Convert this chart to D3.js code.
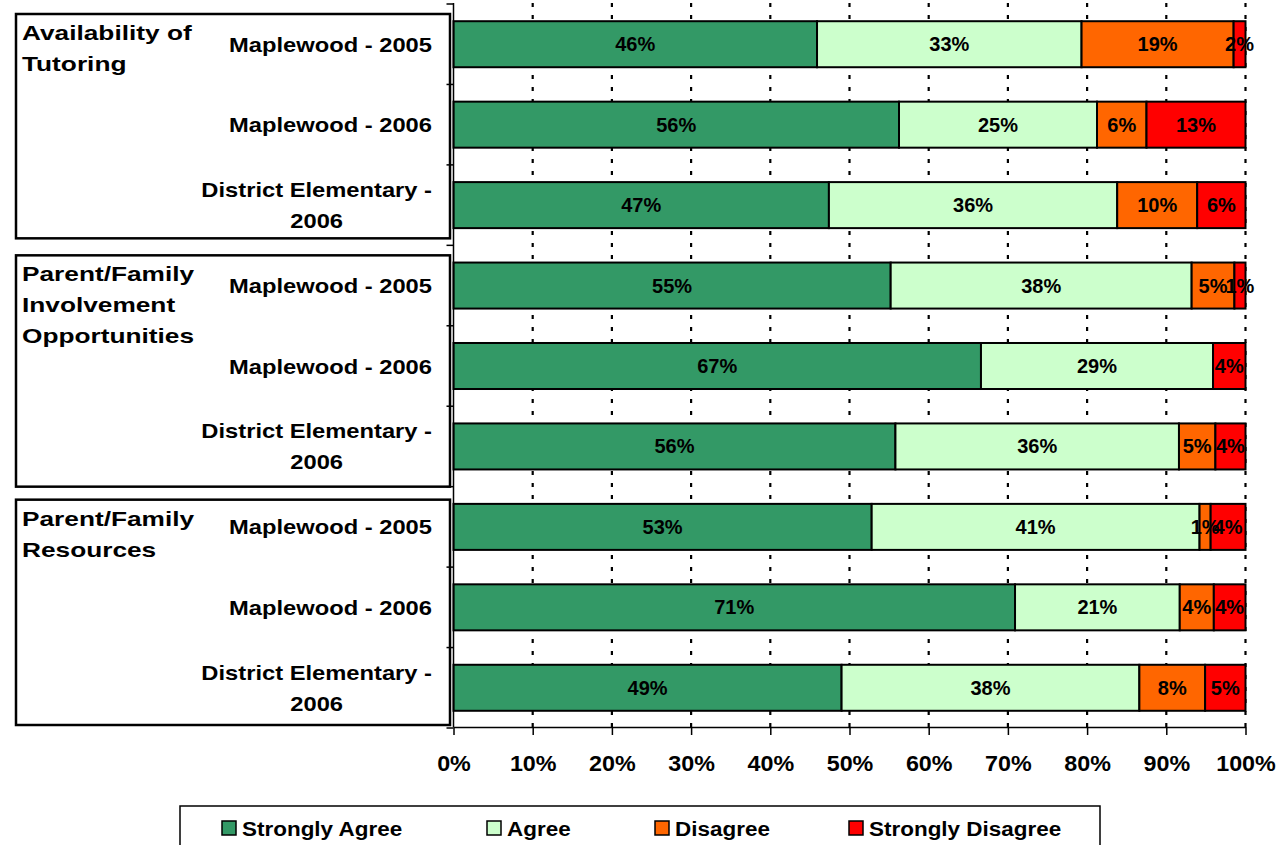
<!DOCTYPE html>
<html>
<head>
<meta charset="utf-8">
<script src="https://cdn.jsdelivr.net/npm/d3@7"></script>
<style>
  body { margin: 0; background: #fff; }
  svg text { font-family: "Liberation Sans", Arial, sans-serif; font-weight: bold; fill: #000; }
</style>
</head>
<body>
<svg id="chart" width="1287" height="845"></svg>
<script>
// survey rows, top to bottom
var categories = [
  ["Maplewood - 2005"], ["Maplewood - 2006"], ["District Elementary -", "2006"],
  ["Maplewood - 2005"], ["Maplewood - 2006"], ["District Elementary -", "2006"],
  ["Maplewood - 2005"], ["Maplewood - 2006"], ["District Elementary -", "2006"]
];
var groups = [
  ["Availability of", "Tutoring"],
  ["Parent/Family", "Involvement", "Opportunities"],
  ["Parent/Family", "Resources"]
];
var seriesNames = ["Strongly Agree", "Agree", "Disagree", "Strongly Disagree"];
var stronglyAgree    = [45.9, 56.25, 47.4, 55.2, 66.6, 55.8, 52.8, 70.9, 49.0];
var agree            = [33.4, 25.0, 36.4, 38.0, 29.3, 35.8, 41.4, 20.8, 37.6];
var disagree         = [19.2, 6.25, 10.1, 5.4, 0, 4.6, 1.4, 4.3, 8.3];
var stronglyDisagree = [1.5, 12.5, 6.1, 1.4, 4.1, 3.8, 4.4, 4.0, 5.1];
var tickValues = [0, 0.1, 0.2, 0.3, 0.4, 0.5, 0.6, 0.7, 0.8, 0.9, 1];

var colors = ["#339966", "#CCFFCC", "#FF6600", "#FF0000"];

var svg = d3.select("#chart");

var rows = categories.map(function (c, i) {
  return {
    i: i,
    "Strongly Agree": stronglyAgree[i],
    "Agree": agree[i],
    "Disagree": disagree[i],
    "Strongly Disagree": stronglyDisagree[i]
  };
});

var x = d3.scaleLinear().domain([0, 1]).range([453.5, 1245.5]);
var y = d3.scaleBand().domain(d3.range(9)).range([4, 728]).paddingInner(0.428).paddingOuter(0.214);
var step = y.step();
var top0 = 3, bottom0 = 727;

var stacked = d3.stack().keys(seriesNames).offset(d3.stackOffsetExpand)(rows);

// dotted gridlines
svg.append("g").selectAll("line").data(tickValues.slice(1)).join("line")
  .attr("x1", d => x(d)).attr("x2", d => x(d))
  .attr("y1", top0).attr("y2", bottom0)
  .attr("stroke", "#000").attr("stroke-width", 2.2)
  .attr("stroke-dasharray", "4,8");

// bars
var layer = svg.append("g").selectAll("g").data(stacked).join("g")
  .attr("fill", (d, k) => colors[k]);

layer.selectAll("rect").data(d => d.filter(s => s[1] - s[0] > 0)).join("rect")
  .attr("x", d => x(d[0]))
  .attr("width", d => x(d[1]) - x(d[0]))
  .attr("y", d => y(d.data.i))
  .attr("height", y.bandwidth())
  .attr("stroke", "#000").attr("stroke-width", 2);

// value labels
stacked.forEach(function (s) {
  svg.append("g").selectAll("text").data(s.filter(d => d[1] - d[0] > 0)).join("text")
    .attr("x", d => x((d[0] + d[1]) / 2))
    .attr("y", d => y(d.data.i) + y.bandwidth() / 2 + 7)
    .attr("text-anchor", "middle")
    .style("font-size", "20px")
    .text(d => Math.round(d.data[s.key]) + "%");
});

// left axis with ticks at band boundaries
var la = svg.append("g");
la.append("line").attr("x1", x(0)).attr("x2", x(0)).attr("y1", top0).attr("y2", bottom0)
  .attr("stroke", "#000").attr("stroke-width", 1.5);
la.selectAll("line.t").data(d3.range(10)).join("line").attr("class", "t")
  .attr("x1", x(0) - 7).attr("x2", x(0))
  .attr("y1", d => 4 + d * step).attr("y2", d => 4 + d * step)
  .attr("stroke", "#000").attr("stroke-width", 1.5);

// bottom axis
var ax = svg.append("g").attr("transform", "translate(0," + bottom0 + ")")
  .call(d3.axisBottom(x).tickValues(tickValues).tickSize(8).tickSizeOuter(0).tickFormat(d3.format(".0%")));
ax.select(".domain").attr("stroke", "#000").attr("stroke-width", 1.5);
ax.selectAll(".tick line").attr("stroke", "#000").attr("stroke-width", 1.5);
ax.selectAll(".tick text").attr("y", 44).attr("dy", null)
  .attr("font-family", null).attr("font-size", null)
  .style("font-size", "22px").attr("transform", "scale(1.06,1)");

// stretched text helper
function stretched(parent, tx, ty, sx, size, anchor, str) {
  var g = parent.append("g").attr("transform", "translate(" + tx + "," + ty + ") scale(" + sx + ",1)");
  return g.append("text").attr("text-anchor", anchor).style("font-size", size + "px").text(str);
}

// category labels
var labelRight = 432;
categories.forEach(function (lines, i) {
  var c = y(i) + y.bandwidth() / 2;
  if (lines.length === 1) {
    stretched(svg, labelRight, c + 7.5, 1.13, 21, "end", lines[0]);
  } else {
    var t = stretched(svg, labelRight, c - 15.5 + 7.5, 1.13, 21, "end", lines[0]);
    var w = t.node().getComputedTextLength() * 1.13;
    stretched(svg, labelRight - w / 2, c + 15.5 + 7.5, 1.13, 21, "middle", lines[1]);
  }
});

// group boxes and labels
var boxInset = [[10, 7], [10, 0], [13, 3]];
groups.forEach(function (lines, gi) {
  var bTop = 4 + gi * 3 * step + boxInset[gi][0];
  var bBot = 4 + (gi + 1) * 3 * step - boxInset[gi][1];
  svg.append("rect").attr("x", 16).attr("y", bTop).attr("width", 434).attr("height", bBot - bTop)
    .attr("fill", "none").attr("stroke", "#000").attr("stroke-width", 2.5);
  lines.forEach(function (ln, k) {
    stretched(svg, 22, bTop + 26 + k * 31, 1.25, 21, "start", ln);
  });
});

// legend
var lg = svg.append("g");
lg.append("rect").attr("x", 180).attr("y", 806).attr("width", 920).attr("height", 60)
  .attr("fill", "#fff").attr("stroke", "#000").attr("stroke-width", 1.5);
var legendX = [222, 487, 655, 849];
seriesNames.forEach(function (name, k) {
  lg.append("rect").attr("x", legendX[k]).attr("y", 821).attr("width", 14).attr("height", 14)
    .attr("fill", colors[k]).attr("stroke", "#000").attr("stroke-width", 1.5);
  stretched(lg, legendX[k] + 20, 836, 1.07, 21, "start", name);
});
</script>
</body>
</html>
